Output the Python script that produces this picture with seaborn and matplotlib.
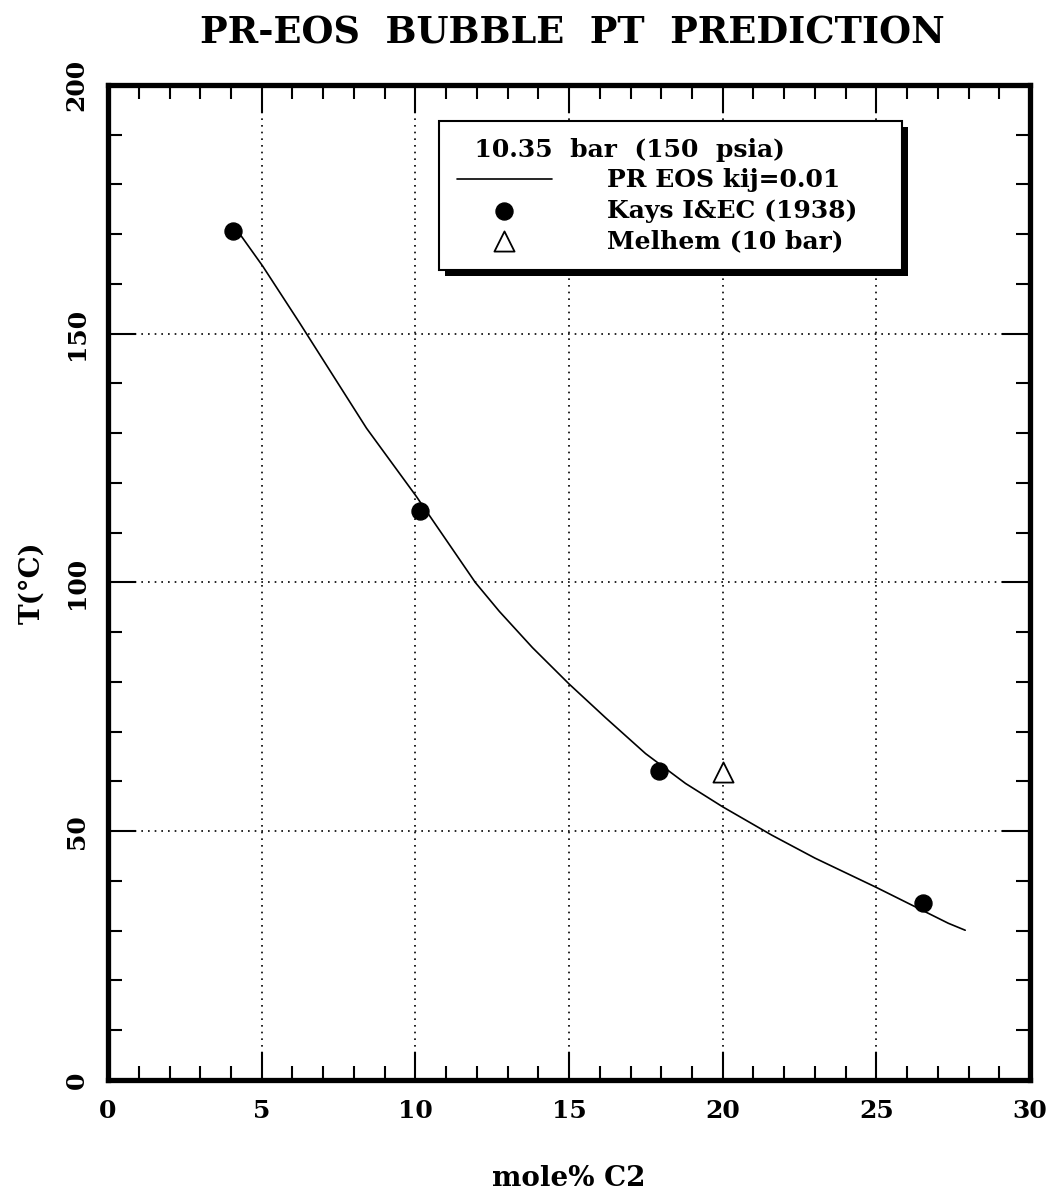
import numpy as np
import pandas as pd
import matplotlib
matplotlib.use("Agg")
import matplotlib.pyplot as plt
import seaborn as sns
from matplotlib.ticker import MultipleLocator
from matplotlib.patches import Rectangle
from matplotlib.transforms import IdentityTransform

# PR EOS curve
curve_x = [4.06, 5.03, 6.23, 8.41, 10.03, 11.95, 12.73, 13.81, 15.0, 16.19, 17.49, 18.79, 20.0, 21.6, 23.0, 25.0, 27.34, 27.89]
curve_y = [172.0, 163.6, 152.2, 131.0, 117.3, 100.0, 94.2, 86.9, 79.6, 72.8, 65.6, 59.6, 54.9, 49.2, 44.6, 38.7, 31.5, 30.1]

# Kays I&EC (1938) data
kays_x = [4.06, 10.15, 17.92, 26.53]
kays_y = [170.6, 114.4, 62.2, 35.5]

# Melhem (10 bar)
melhem_x = [20.01]
melhem_y = [61.9]

sns.set_style("white")
plt.rcParams['font.family'] = ['DejaVu Serif']
plt.rcParams['font.weight'] = 'bold'
plt.rcParams['text.color'] = 'black'
plt.rcParams['axes.labelcolor'] = 'black'
plt.rcParams['xtick.color'] = 'black'
plt.rcParams['ytick.color'] = 'black'

fig = plt.figure(figsize=(10.5, 11.96), dpi=100)
ax = fig.add_axes([0.1029, 0.097, 0.8781, 0.832])

curve = pd.DataFrame({'x': curve_x, 'y': curve_y})
kays = pd.DataFrame({'x': kays_x, 'y': kays_y})
melhem = pd.DataFrame({'x': melhem_x, 'y': melhem_y})

sns.lineplot(data=curve, x='x', y='y', ax=ax, color='black', linewidth=1.2,
             sort=False, label='PR EOS kij=0.01')
sns.scatterplot(data=kays, x='x', y='y', ax=ax, color='black', marker='o',
                s=150, edgecolor='black', label='Kays I&EC (1938)', zorder=5)
sns.scatterplot(data=melhem, x='x', y='y', ax=ax, marker='^', s=210,
                facecolor='white', edgecolor='black', linewidth=1.3,
                label='Melhem (10 bar)', zorder=5)

ax.set_xlim(0, 30)
ax.set_ylim(0, 200)
ax.xaxis.set_major_locator(MultipleLocator(5))
ax.xaxis.set_minor_locator(MultipleLocator(1))
ax.yaxis.set_major_locator(MultipleLocator(50))
ax.yaxis.set_minor_locator(MultipleLocator(10))

ax.grid(True, which='major', linestyle=(0, (1, 3)), color='black', linewidth=1.2)
ax.tick_params(which='both', direction='in', top=True, right=True, bottom=True, left=True,
               width=1.5, color='black', labelsize=18)
ax.tick_params(which='major', length=20, pad=14)
ax.tick_params(which='minor', length=10)
for lbl in ax.get_yticklabels():
    lbl.set_rotation(90)
    lbl.set_va('center')
for sp in ax.spines.values():
    sp.set_linewidth(3.8)
    sp.set_color('black')

ax.set_xlabel('mole% C2', fontsize=20, fontweight='bold', labelpad=30)
ax.set_ylabel('T(°C)', fontsize=20, fontweight='bold', labelpad=14)
fig.text(0.545, 0.972, 'PR-EOS  BUBBLE  PT  PREDICTION', fontsize=26.5,
         fontweight='bold', ha='center', va='center')

leg = ax.legend(loc='upper left', bbox_to_anchor=(0.359, 0.5, 0.502, 0.464), borderaxespad=0,
                mode='expand', title='  10.35  bar  (150  psia)',
                frameon=True, fancybox=False, shadow=False,
                edgecolor='black', prop={'size': 18, 'weight': 'bold'},
                title_fontproperties={'size': 18, 'weight': 'bold'},
                handlelength=3.8, handletextpad=2.2, borderpad=0.7, labelspacing=0.25)
leg.get_frame().set_linewidth(1.5)
leg.get_frame().set_alpha(1)
leg._legend_box.align = 'left'
leg.set_zorder(10)

# drop shadow behind the legend box
fig.canvas.draw()
bb = leg.get_frame().get_window_extent()
ax.add_patch(Rectangle((bb.x0 + 6, bb.y0 - 6), bb.width, bb.height, transform=IdentityTransform(),
                       facecolor='black', edgecolor='none', zorder=9, clip_on=False))

fig.savefig('out.png', dpi=100)
